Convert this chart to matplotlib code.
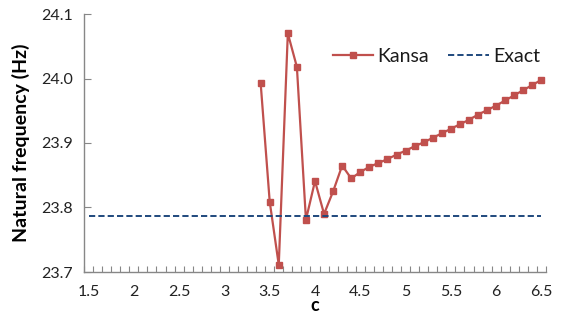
import numpy as np
import matplotlib
matplotlib.use("Agg")
import matplotlib.pyplot as plt
from matplotlib.ticker import FixedLocator, FormatStrFormatter

# Shape parameter c and natural frequency from the Kansa method
c_values = [3.4, 3.5, 3.6, 3.7, 3.8, 3.9, 4.0, 4.1, 4.2, 4.3, 4.4, 4.5, 4.6,
            4.7, 4.8, 4.9, 5.0, 5.1, 5.2, 5.3, 5.4, 5.5, 5.6, 5.7, 5.8, 5.9,
            6.0, 6.1, 6.2, 6.3, 6.4, 6.5]
kansa_freq = [23.993, 23.809, 23.711, 24.070, 24.018, 23.781, 23.841, 23.790,
              23.825, 23.865, 23.845, 23.855, 23.863, 23.869, 23.875, 23.882,
              23.888, 23.895, 23.901, 23.908, 23.915, 23.922, 23.929, 23.936,
              23.944, 23.951, 23.958, 23.966, 23.974, 23.982, 23.990, 23.998]
exact_freq = 23.787
exact_span = [1.5, 6.5]

x_ticks = [1.5, 2, 2.5, 3, 3.5, 4, 4.5, 5, 5.5, 6, 6.5]
x_tick_labels = ["1.5", "2", "2.5", "3", "3.5", "4", "4.5", "5", "5.5", "6", "6.5"]
y_ticks = [23.7, 23.8, 23.9, 24.0, 24.1]

plt.rcParams["font.family"] = ["Lato", "DejaVu Sans"]

fig = plt.figure(figsize=(5.63, 3.24), dpi=100)
ax = fig.add_axes([84 / 563, 1 - 272 / 324, (546 - 84) / 563, (272 - 14) / 324])

red = "#C0504D"
blue = "#1F497D"
axis_grey = "#878787"

ax.plot(c_values, kansa_freq, color=red, lw=1.6, marker="s", ms=4.6,
        mec=red, mfc=red, label="Kansa")
ax.plot(exact_span, [exact_freq, exact_freq], color=blue, lw=1.4,
        ls=(0, (3.2, 1.6)), label="Exact")

ax.set_xlim(1.45, 6.55)
ax.set_ylim(23.7, 24.1)

ax.xaxis.set_major_locator(FixedLocator(x_ticks))
ax.set_xticklabels(x_tick_labels)
ax.xaxis.set_minor_locator(FixedLocator(np.arange(1.45, 6.56, 0.1)))
ax.yaxis.set_major_locator(FixedLocator(y_ticks))
ax.yaxis.set_major_formatter(FormatStrFormatter("%.1f"))

ax.tick_params(axis="x", which="major", length=0, pad=9, labelsize=11.5,
               labelcolor="#222222")
ax.tick_params(axis="x", which="minor", direction="in", length=4,
               width=0.8, color=axis_grey)
ax.tick_params(axis="y", which="major", direction="in", length=5,
               width=0.8, color=axis_grey, pad=8, labelsize=11.5,
               labelcolor="#222222")

for side in ("top", "right"):
    ax.spines[side].set_visible(False)
for side in ("left", "bottom"):
    ax.spines[side].set_color(axis_grey)
    ax.spines[side].set_linewidth(1.0)

ax.set_xlabel("c", fontsize=13, fontweight="bold", labelpad=-1)
ax.set_ylabel("Natural frequency (Hz)", fontsize=14, fontweight="bold",
              labelpad=8)

leg = ax.legend(loc="upper right", bbox_to_anchor=(1.025, 0.935), ncol=2,
                frameon=False, fontsize=14, handlelength=2.1,
                columnspacing=1.0, handletextpad=0.2)
for t in leg.get_texts():
    t.set_color("#1a1a1a")

fig.savefig("out.png", dpi=100)
